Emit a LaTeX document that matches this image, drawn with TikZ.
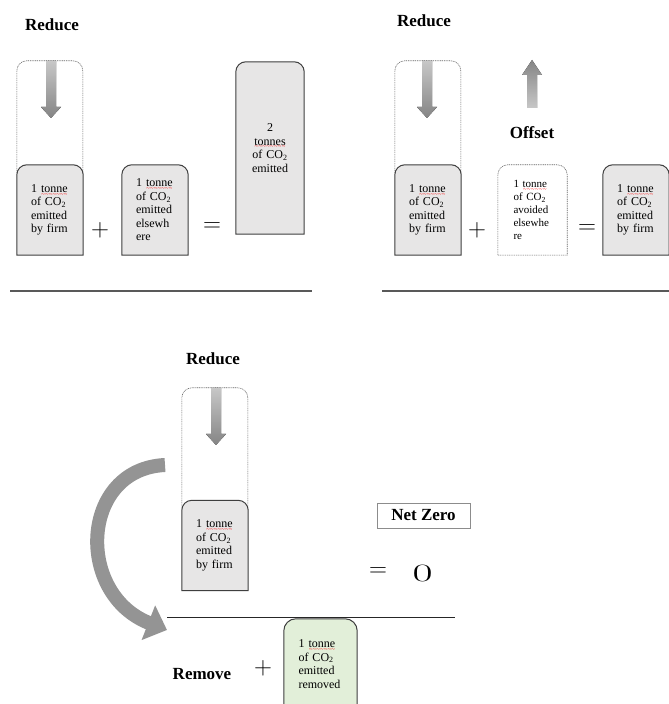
\documentclass[tikz,border=0pt]{standalone}
\usepackage{fontspec}
\setmainfont{Liberation Serif}
\usetikzlibrary{backgrounds,arrows.meta}

\definecolor{boxgrey}{HTML}{E7E6E6}
\definecolor{boxgreen}{HTML}{E2EFD9}
\definecolor{boxline}{HTML}{3F3F3F}

\newsavebox{\wavebox}
\newcommand{\spellwave}[1]{\leavevmode\sbox\wavebox{#1}\rlap{\raisebox{-3.6pt}[0pt][0pt]{\color{red}\fontsize{6.5}{6.5}\selectfont\hbox to \wd\wavebox{\xleaders\hbox{\char"7E}\hfill}}}#1}

\begin{document}
\begin{tikzpicture}[x=1pt,y=1pt,
    tonne/.style={minimum width=66pt,minimum height=90pt,inner sep=0pt,text width=38pt,align=left,font=\fontsize{12}{13.5}\selectfont},
    heading/.style={font=\fontsize{17}{19}\selectfont\bfseries,inner sep=0pt},
    sign/.style={font=\fontsize{28}{28}\selectfont,inner sep=0pt},
    capline/.style={draw=boxline,line width=1pt},
    dots/.style={draw=black!60,line width=0.6pt,dash pattern=on 1pt off 0.8pt},
    downshade/.style={top color=black!22,bottom color=black!48},
    upshade/.style={top color=black!48,bottom color=black!22},
    rule/.style={draw=black!65,line width=1.3pt}]

    \useasboundingbox (0,0) rectangle (669,704);

    \node[heading] (redA) at (52,679) {Reduce};
    \node[tonne] (firmA) at (50,494) {1 \spellwave{tonne}\\of CO\textsubscript{2}\\emitted\\by firm};
    \node[sign] (plusA) at (100,474) {$+$};
    \node[tonne] (elseA) at (155,494) {1 \spellwave{tonne}\\of CO\textsubscript{2}\\emitted\\elsewh\\ere};
    \node[sign] (eqA) at (212,477) {$=$};
    \node[tonne,minimum width=68pt,minimum height=172pt,align=center] (twoA) at (270,556) {2\\\spellwave{tonnes}\\of CO\textsubscript{2}\\emitted};
    \coordinate (dropA) at (51,643);
    \coordinate (ruleA1) at (10,413);
    \coordinate (ruleA2) at (312,413);

    \node[heading] (redB) at (424,683) {Reduce};
    \node[tonne] (firmB) at (428,494) {1 \spellwave{tonne}\\of CO\textsubscript{2}\\emitted\\by firm};
    \node[sign] (plusB) at (477,474) {$+$};
    \node[tonne,minimum width=69pt,font=\fontsize{11}{13}\selectfont] (avoidB) at (532.5,494) {1 \spellwave{tonne}\\of CO\textsubscript{2}\\avoided\\elsewhe\\re};
    \node[heading] (offB) at (532,571) {Offset};
    \node[sign] (eqB) at (587,475) {$=$};
    \node[tonne] (firmC) at (636,494) {1 \spellwave{tonne}\\of CO\textsubscript{2}\\emitted\\by firm};
    \coordinate (dropB) at (427,643);
    \coordinate (liftB) at (532,596);
    \coordinate (ruleB1) at (382,413);
    \coordinate (ruleB2) at (669,413);

    \node[heading] (redD) at (213,345.5) {Reduce};
    \node[tonne] (firmD) at (215,158.5) {1 \spellwave{tonne}\\of CO\textsubscript{2}\\emitted\\by firm};
    \node[tonne,minimum width=73pt,text width=44pt] (removeD) at (320.5,40) {1 \spellwave{tonne}\\of CO\textsubscript{2}\\emitted\\removed};
    \node[sign] (plusD) at (263,36) {$+$};
    \node[heading] (remD) at (202,29.5) {Remove};
    \node[heading,draw=black!45,line width=0.8pt,minimum width=93pt,minimum height=25pt] (netZ) at (423.5,188.5) {Net Zero};
    \node[sign] (eqD) at (378,132) {$=$};
    \node[sign,font=\fontsize{48}{48}\selectfont] (zeroD) at (422.5,131) {\scalebox{1.75}[1]{$0$}};
    \coordinate (dropD) at (216,316);
    \coordinate (loopA) at (165,239);
    \coordinate (loopB) at (167,74);
    \coordinate (ruleC1) at (167,87);
    \coordinate (ruleC2) at (455,87);

    \begin{scope}[on background layer]
        \fill[white] (0,0) rectangle (669,704);
        \draw[rule] (ruleA1) -- (ruleA2);
        \draw[rule] (ruleB1) -- (ruleB2);
        \draw[black!85,line width=0.8pt] (ruleC1) -- (ruleC2);

        \foreach \b/\h in {firmA/102,firmB/102,firmD/110.5}
            \draw[dots] ([yshift=-8pt]\b.north west) -- ++(0,\h) arc[start angle=180,end angle=90,radius=10pt]
                -- ++(46,0) arc[start angle=90,end angle=0,radius=10pt] -- ++(0,-\h);

        \foreach \b in {firmA,elseA,twoA,firmB,firmC,firmD}
            \draw[capline,fill=boxgrey] (\b.south west) -- ([yshift=-10pt]\b.north west) arc[start angle=180,end angle=90,radius=10pt]
                -- ([xshift=-10pt]\b.north east) arc[start angle=90,end angle=0,radius=10pt] -- (\b.south east) -- cycle;

        \draw[dots,fill=white] (avoidB.south west) -- ([yshift=-10pt]avoidB.north west) arc[start angle=180,end angle=90,radius=10pt]
            -- ([xshift=-10pt]avoidB.north east) arc[start angle=90,end angle=0,radius=10pt] -- (avoidB.south east) -- cycle;
        \draw[capline,fill=boxgreen] (removeD.south west) -- ([yshift=-12pt]removeD.north west) arc[start angle=180,end angle=90,radius=12pt]
            -- ([xshift=-12pt]removeD.north east) arc[start angle=90,end angle=0,radius=12pt] -- (removeD.south east) -- cycle;
    \end{scope}

    \foreach \c in {dropA,dropB,dropD}
        \fill[downshade,shift={(\c)}] (-5,0) -- (5,0) -- (5,-46) -- (10,-46) -- (0,-57) -- (-10,-46) -- (-5,-46) -- cycle;
    \fill[upshade,shift={(liftB)}] (-5,0) -- (5,0) -- (5,33) -- (10,33) -- (0,48) -- (-10,33) -- (-5,33) -- cycle;

    \draw[black!42,line width=14pt,-{Triangle[width=36pt,length=20pt]}] (loopA) .. controls (80,235) and (75,110) .. (loopB);
\end{tikzpicture}
\end{document}
